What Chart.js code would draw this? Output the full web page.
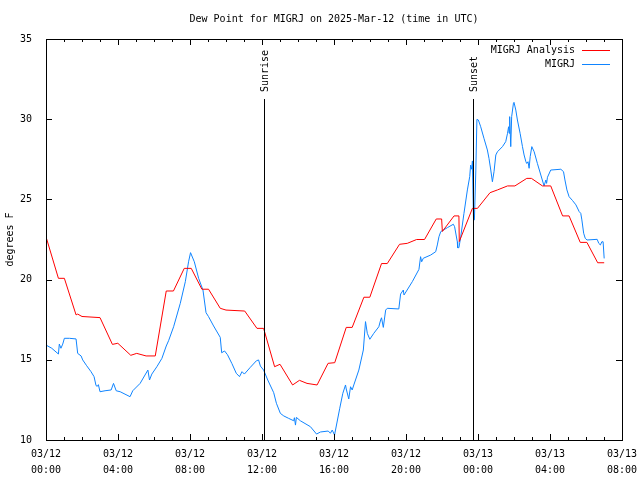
<!DOCTYPE html>
<html>
<head>
<meta charset="utf-8">
<script src="https://cdn.jsdelivr.net/npm/chart.js@4/dist/chart.umd.min.js"></script>
<style>
  html, body { margin: 0; padding: 0; background: #fff; }
  #wrap { width: 640px; height: 480px; }
</style>
</head>
<body>
<div id="wrap"><canvas id="c" width="640" height="480"></canvas></div>
<script>
// ---- data (hours since 2025-03-12 00:00 UTC) ----
const chartTitle = 'Dew Point for MIGRJ on 2025-Mar-12 (time in UTC)';
const yAxisTitle = 'degrees F';
const seriesNames = ['MIGRJ Analysis', 'MIGRJ'];

const analysisHours = [0,0.69,1.02,1.67,1.76,2.0,3.0,3.69,3.99,4.71,5.04,5.56,6.07,6.68,7.08,7.68,8.07,8.66,9.03,9.68,10.0,11.04,11.72,12.09,12.7,13.0,13.7,14.08,14.5,15.06,15.67,16.04,16.68,17.01,17.66,17.99,18.64,18.96,19.64,20.07,20.59,21.03,21.68,21.98,22.02,22.67,22.94,22.96,23.69,23.97,24.67,25.08,25.64,26.05,26.71,26.97,27.58,28.04,28.7,29.06,29.68,30.05,30.65,31.01];
const analysisValues = [22.67,20.08,20.08,17.8,17.85,17.7,17.63,15.96,16.03,15.28,15.4,15.24,15.24,19.29,19.29,20.7,20.7,19.4,19.4,18.21,18.1,18.04,16.96,16.96,14.57,14.72,13.43,13.72,13.53,13.43,14.78,14.82,17.02,17.02,18.9,18.9,21.0,21.0,22.2,22.26,22.5,22.5,23.78,23.78,23.0,23.97,23.97,22.37,24.44,24.44,25.42,25.59,25.84,25.84,26.31,26.31,25.84,25.84,23.97,23.97,22.32,22.32,21.05,21.05];

const obsHours = [0.00,0.32,0.69,0.74,0.83,0.93,1.02,1.30,1.67,1.76,1.95,2.04,2.26,2.50,2.67,2.78,2.85,2.91,3.00,3.28,3.62,3.75,3.90,4.12,4.67,4.82,5.23,5.66,5.75,5.88,6.16,6.44,6.68,6.81,7.09,7.46,7.74,7.92,8.03,8.24,8.48,8.72,8.89,9.03,9.31,9.68,9.76,9.92,10.08,10.33,10.57,10.75,10.89,11.02,11.35,11.69,11.81,11.91,12.09,12.32,12.65,12.80,13.02,13.21,13.48,13.76,13.80,13.86,13.91,14.13,14.69,15.03,15.25,15.68,15.80,15.90,16.03,16.32,16.49,16.64,16.68,16.82,16.92,17.01,17.10,17.38,17.63,17.75,17.85,17.99,18.21,18.49,18.59,18.64,18.74,18.87,18.96,19.60,19.70,19.85,19.89,20.35,20.72,20.81,20.87,20.96,21.37,21.65,21.74,21.83,21.93,22.30,22.63,22.70,22.85,22.87,22.94,23.04,23.22,23.41,23.54,23.59,23.65,23.69,23.75,23.80,23.88,23.94,24.02,24.15,24.33,24.52,24.61,24.71,24.80,24.89,24.99,25.08,25.36,25.54,25.64,25.70,25.73,25.76,25.82,25.87,25.97,26.00,26.10,26.19,26.34,26.47,26.56,26.66,26.71,26.78,26.84,26.90,26.99,27.12,27.30,27.49,27.67,27.77,27.81,27.86,28.04,28.60,28.75,28.83,28.94,29.06,29.25,29.44,29.62,29.71,29.77,29.87,29.96,30.06,30.62,30.71,30.80,30.88,30.95,31.01];
const obsValues = [15.92,15.72,15.36,15.98,15.72,15.98,16.34,16.34,16.30,15.40,15.24,14.99,14.63,14.26,13.95,13.39,13.35,13.45,13.01,13.07,13.12,13.53,13.07,13.01,12.70,13.07,13.53,14.36,13.74,14.11,14.57,15.09,15.86,16.19,17.06,18.52,19.87,21.11,21.68,21.11,20.08,19.35,17.94,17.69,17.11,16.40,15.44,15.55,15.32,14.76,14.16,13.95,14.26,14.11,14.53,14.94,14.99,14.61,14.36,13.74,12.95,12.29,11.66,11.50,11.35,11.20,11.39,10.93,11.41,11.20,10.83,10.37,10.50,10.56,10.42,10.62,10.31,11.98,12.91,13.43,13.18,12.56,13.32,13.12,13.43,14.36,15.61,17.38,16.65,16.28,16.65,17.06,17.48,17.62,17.02,18.10,18.21,18.17,19.10,19.35,19.04,19.87,20.64,21.43,21.11,21.33,21.53,21.74,22.16,22.67,22.99,23.24,23.45,23.30,22.36,21.99,21.99,22.67,24.13,25.59,26.42,27.14,26.88,27.40,23.72,23.72,26.83,29.99,29.95,29.53,28.81,28.08,27.56,26.83,26.10,26.73,27.77,27.97,28.29,28.60,29.12,29.53,29.12,30.16,28.29,30.16,31.00,31.05,30.57,29.95,29.12,28.29,27.77,27.35,27.24,27.35,26.94,27.67,28.29,27.97,27.24,26.52,25.84,26.21,26.00,26.38,26.83,26.88,26.73,26.21,25.59,25.17,24.93,24.66,24.24,24.13,23.72,22.89,22.57,22.47,22.51,22.26,22.16,22.36,22.36,21.32];

const sunLabels = ['Sunrise', 'Sunset'];
const sunHours = [12.09, 23.74];

const xTickHours = [0, 4, 8, 12, 16, 20, 24, 28, 32];
const xTickLabels = [['03/12','00:00'],['03/12','04:00'],['03/12','08:00'],['03/12','12:00'],['03/12','16:00'],['03/12','20:00'],['03/13','00:00'],['03/13','04:00'],['03/13','08:00']];
const yTickValues = [10, 15, 20, 25, 30, 35];

// ---- chart ----
const FONT = "'DejaVu Sans Mono', 'Liberation Mono', monospace";
Chart.defaults.font.family = FONT;
Chart.defaults.font.size = 10;
Chart.defaults.color = '#000';

const colors = ['#ff0000', '#0f84ff'];

const decor = {
  id: 'decor',
  afterDatasetsDraw(chart) {
    const ctx = chart.ctx;
    const a = chart.chartArea;
    const xs = chart.scales.x, ys = chart.scales.y;
    ctx.save();
    ctx.strokeStyle = '#000';
    ctx.lineWidth = 1;
    // frame
    ctx.strokeRect(Math.round(a.left) + 0.5, Math.round(a.top) + 0.5,
                   Math.round(a.right - a.left), Math.round(a.bottom - a.top));
    // x ticks (inward) every hour, long at labelled hours
    ctx.beginPath();
    for (let h = xs.min; h <= xs.max; h++) {
      const px = Math.round(xs.getPixelForValue(h)) + 0.5;
      const len = xTickHours.includes(h) ? 6 : 3;
      ctx.moveTo(px, a.bottom); ctx.lineTo(px, a.bottom - len);
      ctx.moveTo(px, a.top); ctx.lineTo(px, a.top + len);
    }
    // y ticks (inward)
    yTickValues.forEach(v => {
      const py = Math.round(ys.getPixelForValue(v)) + 0.5;
      ctx.moveTo(a.left, py); ctx.lineTo(a.left + 6, py);
      ctx.moveTo(a.right, py); ctx.lineTo(a.right - 6, py);
    });
    ctx.stroke();
    // sunrise / sunset
    ctx.font = '10px ' + FONT;
    ctx.fillStyle = '#000';
    sunHours.forEach((h, i) => {
      const px = Math.round(xs.getPixelForValue(h)) + 0.5;
      ctx.beginPath();
      ctx.moveTo(px, a.top + 60);
      ctx.lineTo(px, a.bottom);
      ctx.stroke();
      ctx.save();
      ctx.translate(px + 1, a.top + 53);
      ctx.rotate(-Math.PI / 2);
      ctx.textAlign = 'left';
      ctx.textBaseline = 'middle';
      ctx.fillText(sunLabels[i], 0, 0);
      ctx.restore();
    });
    // legend
    chart.data.datasets.forEach((ds, i) => {
      const y = a.top + 11 + i * 14;
      ctx.textAlign = 'right';
      ctx.textBaseline = 'middle';
      ctx.fillStyle = '#000';
      ctx.fillText(ds.label, 575, y);
      ctx.strokeStyle = ds.borderColor;
      ctx.beginPath();
      ctx.moveTo(582, Math.round(y) + 0.5);
      ctx.lineTo(610, Math.round(y) + 0.5);
      ctx.stroke();
    });
    // title
    ctx.fillStyle = '#000';
    ctx.textAlign = 'center';
    ctx.textBaseline = 'middle';
    ctx.fillText(chartTitle, (a.left + a.right) / 2, 19);
    ctx.restore();
  }
};

new Chart(document.getElementById('c'), {
  type: 'line',
  data: {
    datasets: [
      {
        label: seriesNames[0],
        data: analysisHours.map((h, i) => ({ x: h, y: analysisValues[i] })),
        borderColor: colors[0],
        borderWidth: 1,
        pointRadius: 0,
        tension: 0,
        fill: false
      },
      {
        label: seriesNames[1],
        data: obsHours.map((h, i) => ({ x: h, y: obsValues[i] })),
        borderColor: colors[1],
        borderWidth: 1,
        pointRadius: 0,
        tension: 0,
        fill: false
      }
    ]
  },
  options: {
    responsive: false,
    animation: false,
    devicePixelRatio: 1,
    layout: { padding: { top: 39, right: 18, left: 0, bottom: 0 } },
    plugins: { legend: { display: false }, title: { display: false }, tooltip: { enabled: false } },
    scales: {
      x: {
        type: 'linear',
        min: 0, max: 32,
        grid: { display: false },
        border: { display: false },
        afterBuildTicks: s => { s.ticks = xTickHours.map(v => ({ value: v })); },
        afterFit: s => { s.height = 40; },
        ticks: {
          autoSkip: false,
          maxRotation: 0,
          padding: -2,
          font: { size: 10, lineHeight: 1.6 },
          callback: (v) => {
            const i = xTickHours.indexOf(v);
            return i >= 0 ? xTickLabels[i] : '';
          }
        }
      },
      y: {
        min: 10, max: 35,
        grid: { display: false },
        border: { display: false },
        afterBuildTicks: s => { s.ticks = yTickValues.map(v => ({ value: v })); },
        afterFit: s => { s.width = 46; },
        title: { display: true, text: yAxisTitle, padding: { top: 4, bottom: 0 }, font: { size: 10 } },
        ticks: { padding: 6, font: { size: 10 } }
      }
    }
  },
  plugins: [decor]
});
</script>
</body>
</html>
